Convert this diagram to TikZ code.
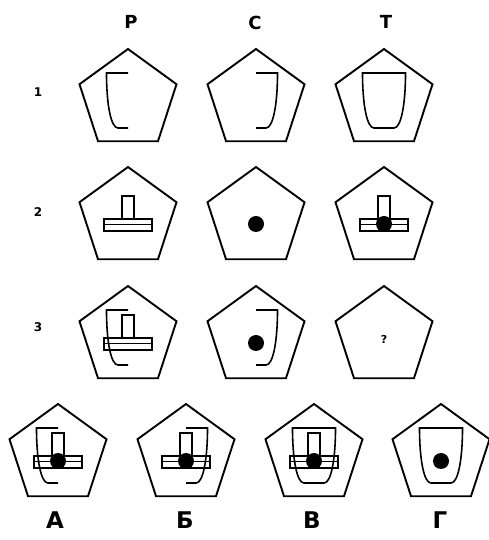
\documentclass[tikz,border=0pt]{standalone}
\usepackage{fontspec}
\setmainfont{DejaVu Sans}
\usetikzlibrary{positioning}

\tikzset{
  outline/.style={line width=1.9pt, line join=miter},
  stroke/.style={line width=1.6pt, line join=miter},
  thinstroke/.style={line width=1.3pt, line join=miter},
  head/.style={font=\bfseries\fontsize{18}{18}\selectfont},
  answer/.style={font=\bfseries\fontsize{23}{23}\selectfont},
  rownum/.style={font=\bfseries\fontsize{12}{12}\selectfont},
  % pentagon frame
  pics/pentagon/.style={code={
    \draw[outline] (90:51) -- (162:51) -- (234:51) -- (306:51) -- (18:51) -- cycle;
  }},
  % left half of the cup
  pics/lbracket/.style={code={
    \draw[stroke] (0,27) -- (-21.5,27)
      .. controls (-21.5,-5) and (-17,-28) .. (-10,-28) -- (0,-28);
  }},
  % right half of the cup
  pics/rbracket/.style={code={
    \draw[stroke] (0,27) -- (21.5,27)
      .. controls (21.5,-5) and (17,-28) .. (10,-28) -- (0,-28);
  }},
  % whole cup
  pics/cup/.style={code={
    \draw[stroke] (-21.5,27) -- (21.5,27)
      .. controls (21.5,-5) and (17,-28) .. (10,-28) -- (-10,-28)
      .. controls (-17,-28) and (-21.5,-5) .. cycle;
  }},
  % inverted T
  pics/tee/.style={code={
    \draw[thinstroke] (-6,-1) -- (-6,22) -- (6,22) -- (6,-1);
    \draw[thinstroke] (-24,-1) rectangle (24,-13);
    \draw[thinstroke] (-24,-6.5) -- (24,-6.5);
  }},
  % black dot
  pics/dot/.style={code={
    \fill (0,-6) circle (8);
  }}
}

\begin{document}
\begin{tikzpicture}[x=1pt, y=1pt]
\useasboundingbox (0,0) rectangle (488,540);

% Column heads
\node[head] (hP) at (131,518) {Р};
\node[head] (hC) at (255,517) {С};
\node[head] (hT) at (386,518) {Т};

% Row numbers
\node[rownum] (r1) at (38,448) {1};
\node[rownum] (r2) at (38,328) {2};
\node[rownum] (r3) at (38,213) {3};

% Row 1
\pic at (128,440) {pentagon};
\pic at (128,440) {lbracket};
\pic at (256,440) {pentagon};
\pic at (256,440) {rbracket};
\pic at (384,440) {pentagon};
\pic at (384,440) {cup};

% Row 2
\pic at (128,322) {pentagon};
\pic at (128,322) {tee};
\pic at (256,322) {pentagon};
\pic at (256,322) {dot};
\pic at (384,322) {pentagon};
\pic at (384,322) {tee};
\pic at (384,322) {dot};

% Row 3
\pic at (128,203) {pentagon};
\pic at (128,203) {tee};
\pic at (128,203) {lbracket};
\pic at (256,203) {pentagon};
\pic at (256,203) {rbracket};
\pic at (256,203) {dot};
\pic at (384,203) {pentagon};
\node[font=\bfseries\fontsize{11}{11}\selectfont] (q) at (384,201) {?};

% Answers
\pic at (58,85) {pentagon};
\pic at (58,85) {tee};
\pic at (58,85) {lbracket};
\pic at (58,85) {dot};
\pic at (186,85) {pentagon};
\pic at (186,85) {tee};
\pic at (186,85) {rbracket};
\pic at (186,85) {dot};
\pic at (314,85) {pentagon};
\pic at (314,85) {tee};
\pic at (314,85) {cup};
\pic at (314,85) {dot};
\pic at (441,85) {pentagon};
\pic at (441,85) {cup};
\pic at (441,85) {dot};

% Answer letters
\node[answer] (aA) at (55,20) {А};
\node[answer] (aB) at (185,20) {Б};
\node[answer] (aV) at (312,20) {В};
\node[answer] (aG) at (440,20) {Г};

\end{tikzpicture}
\end{document}
